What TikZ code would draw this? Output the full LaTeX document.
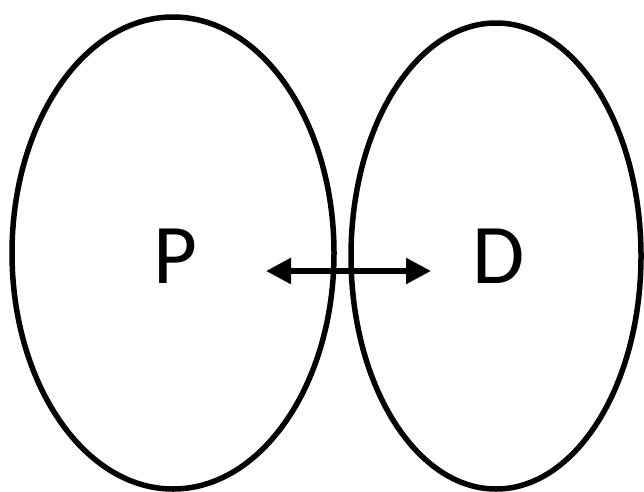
\documentclass[tikz,border=0pt]{standalone}
\usepackage{fontspec}
\setmainfont{Carlito}
\usetikzlibrary{arrows.meta}
\begin{document}
\begin{tikzpicture}[x=1pt,y=-1pt,
  oval/.style={draw=black,line width=5.5pt},
  lbl/.style={font=\fontsize{85}{90}\selectfont,inner sep=0pt,anchor=base},
  link/.style={line width=5.5pt,{Triangle[length=25pt,width=25pt]}-{Triangle[length=25pt,width=25pt]}}]
\useasboundingbox (0,0) rectangle (644,491);
\draw[oval] (173,253) ellipse [x radius=161, y radius=236];
\draw[oval] (496,256) ellipse [x radius=145, y radius=233];
\node[lbl] (P) at (175,283) {P};
\node[lbl] (D) at (499,283) {D};
\coordinate (a) at (266,271);
\coordinate (b) at (431,271);
\draw[link] (a) -- (b);
\end{tikzpicture}
\end{document}
